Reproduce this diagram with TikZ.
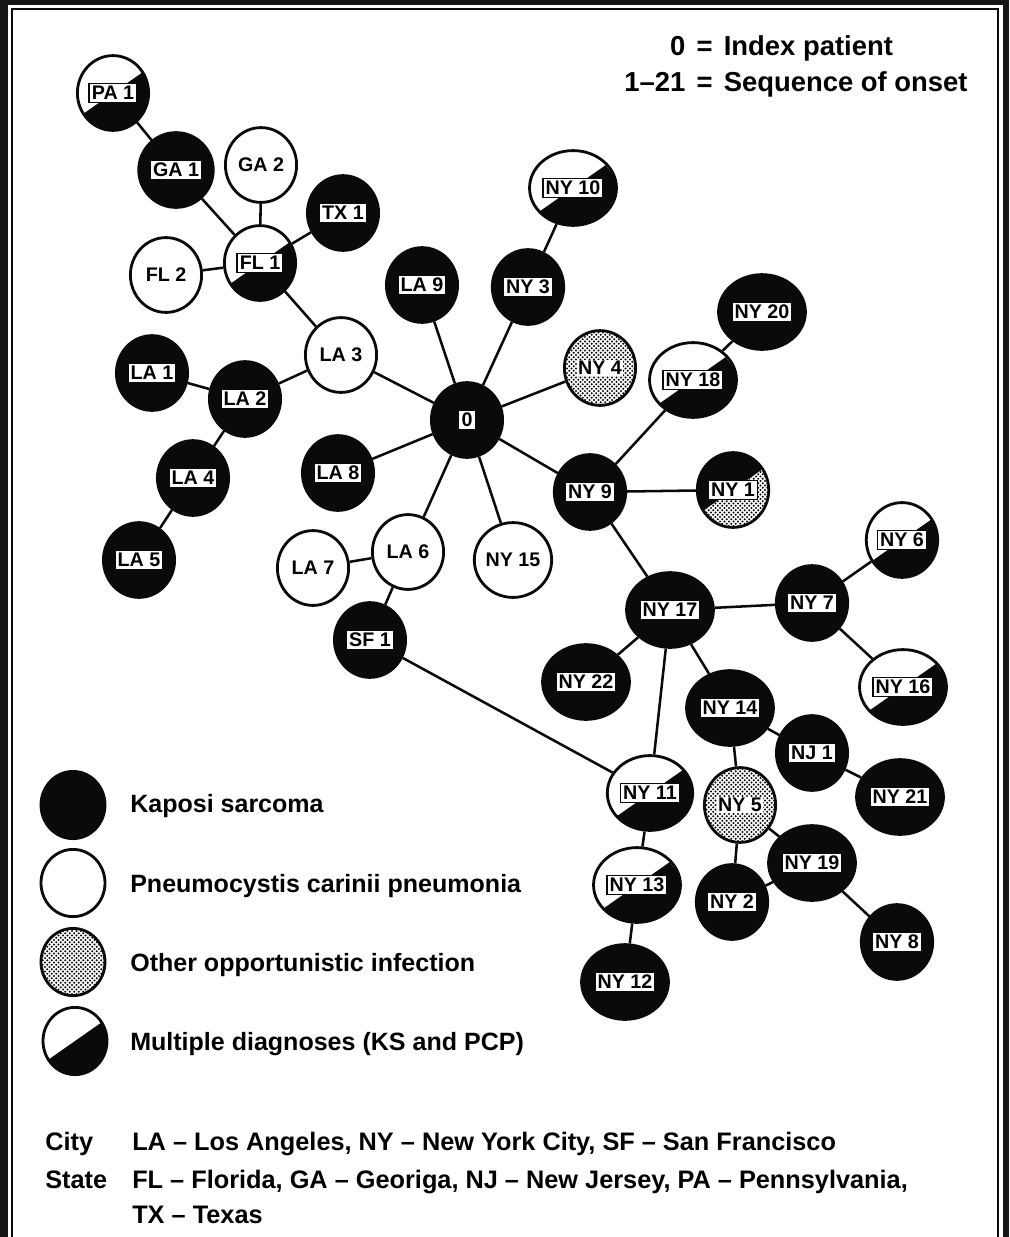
\documentclass[tikz,border=0pt]{standalone}
\usepackage{fontspec}
\setmainfont{Liberation Sans}
\usepackage{xcolor}
\usepackage{tikz}
\usetikzlibrary{
  shapes.geometric,
  patterns,
  positioning
}
\definecolor{ptInk}{HTML}{0A0A0A}
\definecolor{ptScan}{HTML}{161616}
\newcommand{\tagfont}{\fontsize{14pt}{16pt}\selectfont\bfseries}
\newcommand{\keyfont}{\fontsize{17.8pt}{21pt}\selectfont\bfseries}
\newcommand{\headfont}{\fontsize{19.5pt}{26pt}\selectfont\bfseries}
\newcommand{\abbrfont}{\fontsize{18pt}{22pt}\selectfont\bfseries}
\setlength{\fboxrule}{0.9pt}
\newcommand{\tagbox}[1]{{\setlength{\fboxsep}{1.5pt}\fcolorbox{ptInk}{white}{#1}}}
\newcommand{\halo}[1]{{\setlength{\fboxsep}{1pt}\colorbox{white}{#1}}}
\pgfdeclarepatternformonly{ptdots}{\pgfqpoint{-0.8pt}{-0.8pt}}{\pgfqpoint{2.4pt}{2.4pt}}{\pgfqpoint{3.2pt}{3.2pt}}{
  \pgfpathcircle{\pgfqpoint{0pt}{0pt}}{0.8pt}
  \pgfpathcircle{\pgfqpoint{1.6pt}{1.6pt}}{0.8pt}
  \pgfusepath{fill}
}
\tikzset{
  ptnode/.style={
    draw=ptInk, ellipse, line width=2pt, minimum width=1.78cm, minimum height=1.87cm,
    inner sep=0pt, font=\tagfont
  },
  ptks/.style={ptnode, fill=ptInk},
  ptpcp/.style={ptnode, fill=white},
  ptoi/.style={ptnode, pattern=ptdots, pattern color=ptInk},
  ptmulti/.style={ptnode, fill=white,
    path picture={\fill[ptInk] (path picture bounding box.center) ++(215:1cm) -- ++(35:2cm) -- ++(-55:2cm) -- ++(215:2cm) -- cycle;}
  },
  ptksoi/.style={ptnode, fill=ptInk,
    path picture={
      \fill[white] (path picture bounding box.center) ++(215:1cm) -- ++(35:2cm) -- ++(-55:2cm) -- ++(215:2cm) -- cycle;
      \fill[pattern=ptdots, pattern color=ptInk] (path picture bounding box.center) ++(215:1cm) -- ++(35:2cm) -- ++(-55:2cm) -- ++(215:2cm) -- cycle;
    }
  },
  keysym/.style={minimum width=1.6cm, minimum height=1.68cm},
  link/.style={draw=ptInk, line width=1.8pt},
  keytext/.style={font=\keyfont, anchor=base west, inner sep=0pt},
  abbr/.style={font=\abbrfont, anchor=base west, inner sep=0pt}
}

\begin{document}
\begin{tikzpicture}[x=0.025cm, y=0.025cm]
  \useasboundingbox (0,0) rectangle (1009,-1237);
  \fill[ptScan] (0,0) rectangle (1009,-1237);
  \fill[white] (8,-5) rectangle (1003,-1237);
  \draw[line width=1.5pt, ptInk] (12,-1237) |- (998,-9) -- (998,-1237);

  \node[font=\headfont, anchor=base west, inner sep=0pt] (key) at (624,-55)
    {\begin{tabular}[t]{@{}r@{\hspace{8pt}}c@{\hspace{8pt}}l@{}}0 & = & Index patient\\ 1--21 & = & Sequence of onset\end{tabular}};

  \node[ptmulti] (pa1) at (113,-93) {\tagbox{PA 1}};
  \node[ptks] (ga1) at (176,-170) {\tagbox{GA 1}};
  \node[ptpcp] (ga2) at (261,-165) {GA 2};
  \node[ptks] (tx1) at (343,-213) {\tagbox{TX 1}};
  \node[ptpcp] (fl2) at (166,-275) {FL 2};
  \node[ptmulti] (fl1) at (260,-263) {\tagbox{FL 1}};
  \node[ptks] (la9) at (422,-285) {\tagbox{LA 9}};
  \node[ptmulti] (ny10) at (573,-188) {\tagbox{NY 10}};
  \node[ptks] (ny3) at (528,-287) {\tagbox{NY 3}};
  \node[ptks] (ny20) at (762,-312) {\tagbox{NY 20}};
  \node[ptpcp] (la3) at (341,-355) {LA 3};
  \node[ptks] (la1) at (152,-373) {\tagbox{LA 1}};
  \node[ptks] (la2) at (245,-399) {\tagbox{LA 2}};
  \node[ptoi] (ny4) at (600,-368) {\halo{NY 4}};
  \node[ptmulti] (ny18) at (693,-380) {\tagbox{NY 18}};
  \node[ptks] (idx) at (467,-420) {\tagbox{0}};
  \node[ptks] (la8) at (338,-473) {\tagbox{LA 8}};
  \node[ptks] (la4) at (193,-478) {\tagbox{LA 4}};
  \node[ptks] (ny9) at (590,-492) {\tagbox{NY 9}};
  \node[ptksoi] (ny1) at (733,-490) {\tagbox{NY 1}};
  \node[ptks] (la5) at (139,-560) {\tagbox{LA 5}};
  \node[ptpcp] (la7) at (313,-568) {LA 7};
  \node[ptpcp] (la6) at (408,-552) {LA 6};
  \node[ptpcp] (ny15) at (513,-560) {NY 15};
  \node[ptmulti] (ny6) at (902,-540) {\tagbox{NY 6}};
  \node[ptks] (sf1) at (370,-640) {\tagbox{SF 1}};
  \node[ptks] (ny17) at (670,-610) {\tagbox{NY 17}};
  \node[ptks] (ny7) at (812,-603) {\tagbox{NY 7}};
  \node[ptks] (ny22) at (586,-682) {\tagbox{NY 22}};
  \node[ptmulti] (ny16) at (903,-687) {\tagbox{NY 16}};
  \node[ptks] (ny14) at (730,-708) {\tagbox{NY 14}};
  \node[ptks] (nj1) at (812,-753) {\tagbox{NJ 1}};
  \node[ptks] (ny21) at (900,-797) {\tagbox{NY 21}};
  \node[ptmulti] (ny11) at (650,-793) {\tagbox{NY 11}};
  \node[ptoi] (ny5) at (740,-805) {\halo{NY 5}};
  \node[ptks] (ny19) at (812,-863) {\tagbox{NY 19}};
  \node[ptmulti] (ny13) at (637,-885) {\tagbox{NY 13}};
  \node[ptks] (ny2) at (732,-902) {\tagbox{NY 2}};
  \node[ptks] (ny8) at (897,-942) {\tagbox{NY 8}};
  \node[ptks] (ny12) at (625,-982) {\tagbox{NY 12}};

  \foreach \a/\b in {pa1/ga1, ga1/fl1, ga2/fl1, tx1/fl1, fl2/fl1, fl1/la3, la3/la2, la1/la2,
      la2/la4, la4/la5, la3/idx, la9/idx, ny3/idx, ny10/ny3, ny4/idx, la8/idx, la6/idx,
      ny15/idx, idx/ny9, ny9/ny18, ny18/ny20, ny9/ny1, ny9/ny17, la7/la6, la6/sf1,
      sf1/ny11, ny17/ny7, ny7/ny6, ny7/ny16, ny17/ny22, ny17/ny14, ny17/ny11, ny14/nj1,
      nj1/ny21, ny14/ny5, ny5/ny19, ny5/ny2, ny2/ny19, ny19/ny8, ny11/ny13, ny13/ny12}
    \draw[link] (\a) -- (\b);

  \node[ptks, keysym] (symks) at (73,-805) {};
  \node[ptpcp, keysym] (sympcp) at (73,-883) {};
  \node[ptoi, keysym] (symoi) at (73,-962) {};
  \node[ptmulti, keysym] (symmulti) at (75,-1041) {};
  \node[keytext] (txtks) at (130,-812) {Kaposi sarcoma};
  \node[keytext] (txtpcp) at (130,-892) {Pneumocystis carinii pneumonia};
  \node[keytext] (txtoi) at (130,-971) {Other opportunistic infection};
  \node[keytext] (txtmulti) at (130,-1050) {Multiple diagnoses (KS and PCP)};

  \node[abbr] (city) at (45,-1150) {City};
  \node[abbr] (citylist) at (132,-1150) {LA -- Los Angeles, NY -- New York City, SF -- San Francisco};
  \node[abbr] (state) at (45,-1188) {State};
  \node[abbr] (statelist) at (132,-1188) {FL -- Florida, GA -- Georiga, NJ -- New Jersey, PA -- Pennsylvania,};
  \node[abbr] (statemore) at (132,-1223) {TX -- Texas};
\end{tikzpicture}
\end{document}
